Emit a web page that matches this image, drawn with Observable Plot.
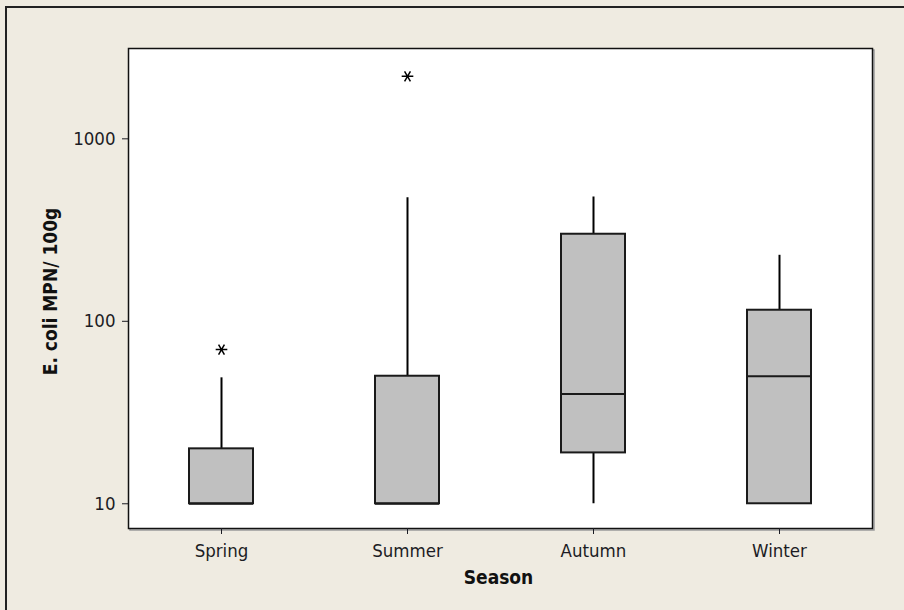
<!DOCTYPE html>
<html>
<head>
<meta charset="utf-8">
<script src="https://cdn.jsdelivr.net/npm/d3@7"></script>
<script src="https://cdn.jsdelivr.net/npm/@observablehq/plot@0.6"></script>
<style>
  html, body { margin: 0; padding: 0; background: #efebe1; }
  #wrap { position: relative; width: 904px; height: 610px; overflow: hidden; background: #efebe1; }
  #edge { position: absolute; left: 5px; top: 6px; width: 1000px; height: 1000px;
          border-top: 2px solid #222; border-left: 2px solid #222; pointer-events: none; }
  svg { display: block; }
</style>
</head>
<body>
<div id="wrap"><div id="edge"></div></div>
<script>
// ---- data ----
const seasons = ["Spring", "Summer", "Autumn", "Winter"];
const whiskerLow = [10, 10, 10, 10];
const q1 = [10, 10, 19, 10];
const median = [10, 10, 40, 50];
const q3 = [20, 50, 300, 115];
const whiskerHigh = [49, 475, 480, 230];
const outlierSeason = ["Spring", "Summer"];
const outlierValue = [70, 2200];
const yTicks = [10, 100, 1000];
const yLabel = "E. coli MPN/ 100g";
const xLabel = "Season";

const boxes = seasons.map((s, i) => ({
  season: s, lo: whiskerLow[i], q1: q1[i], med: median[i], q3: q3[i], hi: whiskerHigh[i]
}));
const outliers = outlierSeason.map((s, i) => ({season: s, value: outlierValue[i]}));

const font = "'DejaVu Sans Condensed', 'DejaVu Sans', sans-serif";
const boxInset = 61;

const chart = Plot.plot({
  width: 904,
  height: 610,
  marginLeft: 128,
  marginRight: 32,
  marginTop: 48,
  marginBottom: 82,
  style: {background: "transparent", fontFamily: font, fontSize: "18.5px", color: "#1c1c24"},
  x: {type: "band", domain: seasons, padding: 0, label: null, tickSize: 6, tickPadding: 9},
  y: {type: "log", domain: [7.32, 3126], ticks: yTicks, tickFormat: d => String(d),
      label: null, tickSize: 6, tickPadding: 7},
  marks: [
    Plot.frame({fill: "white", stroke: "#9a9a9a", strokeWidth: 1.5, dx: 1.5, dy: 1.5}),
    Plot.frame({fill: "white", stroke: "none"}),
    Plot.ruleX(boxes, {x: "season", y1: "lo", y2: "hi", stroke: "black", strokeWidth: 2}),
    Plot.barY(boxes, {x: "season", y1: "q1", y2: "q3", fill: "#c0c0c0", stroke: "#1a1a1a",
      strokeWidth: 2, insetLeft: boxInset, insetRight: boxInset}),
    Plot.tickY(boxes, {x: "season", y: "med", stroke: "#1a1a1a", strokeWidth: 2,
      insetLeft: boxInset, insetRight: boxInset}),
    Plot.dot(outliers, {x: "season", y: "value", symbol: "asterisk", r: 5.5, stroke: "black",
      strokeWidth: 1.5, rotate: 90}),
    Plot.frame({stroke: "#111", strokeWidth: 1.5}),
    Plot.axisY({ticks: yTicks, tickFormat: d => String(d), tickSize: 6, tickPadding: 7,
      label: null, fontSize: 18.5}),
    Plot.axisX({tickSize: 6, tickPadding: 9, label: null, fontSize: 18.5}),
    Plot.text([yLabel], {frameAnchor: "left", textAnchor: "middle", dx: -78, dy: 3, rotate: -90,
      fontWeight: "bold", fontSize: 19, fill: "#111"}),
    Plot.text([xLabel], {frameAnchor: "bottom", dy: 55, dx: -2,
      fontWeight: "bold", fontSize: 19, fill: "#111"})
  ]
});
document.getElementById("wrap").appendChild(chart);
</script>
</body>
</html>
